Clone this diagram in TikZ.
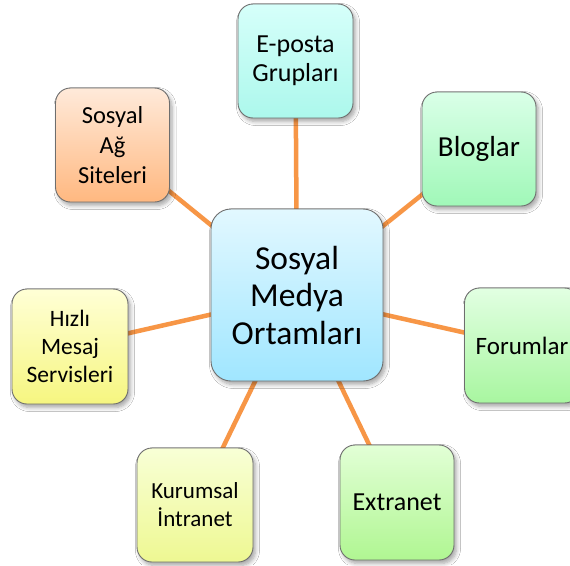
\documentclass[tikz,border=0pt]{standalone}
\usepackage{fontspec}
\setmainfont{Carlito}
\usetikzlibrary{shadows.blur}
\definecolor{conn}{HTML}{F79646}
\definecolor{edge}{HTML}{6E6E6E}
\tikzset{
  box/.style={draw=edge, line width=0.9pt, rounded corners=15pt, minimum width=114pt, minimum height=114pt,
    align=center, inner sep=2pt,
    blur shadow={shadow xshift=2.5pt, shadow yshift=-3.5pt, shadow blur radius=4pt, shadow blur steps=6, shadow opacity=35}},
  conline/.style={draw=conn, line width=4.5pt},
}
\begin{document}
\begin{tikzpicture}[x=1pt,y=-1pt]
\clip (0,0) rectangle (570,565);
\fill[white] (0,0) rectangle (570,565);
\coordinate (c0) at (297,295);
\coordinate (c1) at (112.5,145);
\coordinate (c2) at (295.5,61);
\coordinate (c3) at (479,149);
\coordinate (c4) at (70,346.5);
\coordinate (c5) at (522,345.5);
\coordinate (c6) at (195,505);
\coordinate (c7) at (397,502.5);
\foreach \i in {1,...,7} \draw[conline] (c0) -- (c\i);
\node[box, minimum width=114pt, minimum height=114pt, top color={rgb,255:red,255;green,234;blue,218}, bottom color={rgb,255:red,255;green,184;blue,128}, font=\fontsize{24.5}{30}\selectfont] (sag) at (c1) {Sosyal\\Ağ\\Siteleri};
\node[box, minimum width=115pt, top color={rgb,255:red,214;green,255;blue,250}, bottom color={rgb,255:red,172;green,248;blue,236}, font=\fontsize{26}{29}\selectfont] (epo) at (c2) {E-posta\\Grupları};
\node[box, top color={rgb,255:red,218;green,255;blue,232}, bottom color={rgb,255:red,160;green,248;blue,184}, font=\fontsize{29}{34}\selectfont] (blog) at (c3) {Bloglar};
\node[box, minimum width=116pt, minimum height=115pt, top color={rgb,255:red,255;green,255;blue,214}, bottom color={rgb,255:red,246;green,246;blue,128}, font=\fontsize{23.5}{28}\selectfont] (hiz) at (c4) {Hızlı\\Mesaj\\Servisleri};
\node[box, minimum width=115pt, minimum height=115pt, top color={rgb,255:red,226;green,255;blue,226}, bottom color={rgb,255:red,168;green,246;blue,160}, font=\fontsize{25}{30}\selectfont] (for) at (c5) {Forumlar};
\node[box, minimum width=116pt, top color={rgb,255:red,248;green,255;blue,214}, bottom color={rgb,255:red,238;green,248;blue,146}, font=\fontsize{23}{28}\selectfont] (kur) at (c6) {Kurumsal\\İntranet};
\node[box, minimum height=115pt, top color={rgb,255:red,226;green,255;blue,214}, bottom color={rgb,255:red,176;green,246;blue,146}, font=\fontsize{26}{31}\selectfont] (ext) at (c7) {Extranet};
\node[box, rounded corners=20pt, minimum width=172pt, minimum height=172pt, top color={rgb,255:red,226;green,248;blue,255}, bottom color={rgb,255:red,160;green,230;blue,255}, font=\fontsize{33.5}{37.5}\selectfont] (cen) at (c0) {Sosyal\\Medya\\Ortamları};
\end{tikzpicture}
\end{document}
